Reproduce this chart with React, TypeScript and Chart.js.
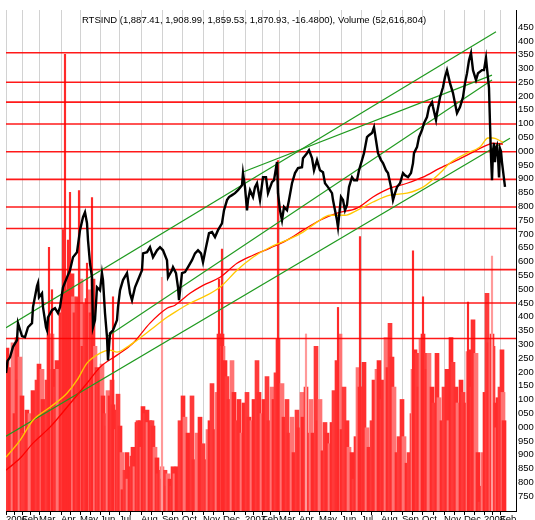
import React, { useEffect, useRef } from 'react';
import { Chart, registerables } from 'chart.js';

Chart.register(...registerables);

const TITLE = 'RTSIND (1,887.41, 1,908.99, 1,859.53, 1,870.93, -16.4800), Volume (52,616,804)';

// x axis: trading-day index from the first session of Jan 2006
const monthTickDays = [0, 16, 33, 55, 74, 94, 113, 135, 156, 176, 197, 217, 239, 256, 273, 293, 313, 335, 355, 375, 396, 416, 438, 458, 478, 494];
const monthTickLabels = ['2006', 'Feb', 'Mar', 'Apr', 'May', 'Jun', 'Jul', 'Aug', 'Sep', 'Oct', 'Nov', 'Dec', '2007', 'Feb', 'Mar', 'Apr', 'May', 'Jun', 'Jul', 'Aug', 'Sep', 'Oct', 'Nov', 'Dec', '2008', 'Feb'];
const minorTickDays = [8, 24, 44, 64, 84, 103, 124, 145, 166, 186, 207, 228, 247, 264, 283, 303, 324, 345, 365, 385, 406, 427, 448, 468, 486];

// price axis ticks
const priceTicks = [750, 800, 850, 900, 950, 1000, 1050, 1100, 1150, 1200, 1250, 1300, 1350, 1400, 1450, 1500, 1550, 1600, 1650, 1700, 1750, 1800, 1850, 1900, 1950, 2000, 2050, 2100, 2150, 2200, 2250, 2300, 2350, 2400, 2450];

// RTS index (sampled path of the daily bars)
const priceDays = [0, 1.5, 4, 7, 11, 12, 16, 19, 22, 26, 27, 31, 32, 33, 36, 37, 40, 41, 42, 46, 49, 52, 54, 57, 61, 64, 67, 71, 74, 77, 79, 81, 82, 84, 86, 87, 89, 91, 94, 96, 97, 99, 101, 102, 104, 107, 111, 112, 114, 117, 121, 124, 126, 129, 132, 136, 137, 141, 144, 147, 151, 154, 157, 161, 162, 166, 167, 170, 172, 173, 176, 179, 182, 186, 189, 192, 195, 197, 200, 203, 206, 209, 212, 216, 218, 221, 223, 226, 229, 232, 236, 237, 239, 241, 242, 244, 247, 249, 251, 254, 257, 260, 262, 266, 268, 271, 272, 274, 276, 278, 281, 283, 286, 289, 292, 296, 297, 301, 303, 306, 308, 311, 314, 317, 319, 322, 326, 327, 329, 331, 332, 335, 337, 339, 341, 343, 346, 348, 351, 353, 356, 358, 361, 363, 366, 368, 370, 372, 375, 377, 380, 382, 385, 387, 389, 391, 394, 397, 399, 402, 405, 407, 408, 411, 413, 416, 418, 421, 423, 426, 427, 430, 431, 434, 437, 439, 441, 444, 447, 449, 451, 454, 457, 459, 461, 463, 465, 467, 470, 472, 476, 478, 480, 481, 483, 484, 485, 486, 487, 488, 489, 490, 491, 492, 493, 494, 495, 496, 497, 498, 499];
const priceVals = [1196, 1240, 1253, 1291, 1315, 1377, 1330, 1326, 1362, 1377, 1435, 1511, 1522, 1471, 1485, 1435, 1362, 1351, 1398, 1424, 1431, 1413, 1435, 1507, 1543, 1569, 1616, 1634, 1714, 1761, 1779, 1739, 1678, 1594, 1543, 1362, 1388, 1507, 1496, 1558, 1533, 1413, 1326, 1242, 1340, 1351, 1388, 1435, 1496, 1533, 1558, 1485, 1460, 1507, 1533, 1569, 1630, 1634, 1652, 1616, 1641, 1652, 1641, 1605, 1543, 1569, 1580, 1558, 1507, 1460, 1558, 1562, 1580, 1605, 1630, 1641, 1630, 1598, 1652, 1703, 1707, 1689, 1714, 1739, 1786, 1823, 1834, 1841, 1848, 1859, 1877, 1921, 1870, 1786, 1823, 1859, 1834, 1870, 1884, 1823, 1906, 1906, 1848, 1888, 1895, 1961, 1848, 1786, 1750, 1798, 1786, 1823, 1884, 1921, 1939, 1942, 1975, 1993, 2004, 1975, 1931, 1968, 1931, 1924, 1884, 1870, 1848, 1823, 1786, 1750, 1725, 1834, 1823, 1786, 1805, 1870, 1906, 1895, 1895, 1931, 1968, 1993, 2051, 2058, 2066, 2087, 2040, 1993, 1968, 1957, 1931, 1921, 1870, 1823, 1848, 1870, 1884, 1921, 1913, 1906, 1921, 1957, 1993, 2015, 2051, 2077, 2102, 2124, 2160, 2178, 2160, 2113, 2138, 2196, 2232, 2269, 2294, 2247, 2211, 2174, 2138, 2160, 2196, 2247, 2283, 2330, 2356, 2294, 2258, 2283, 2294, 2294, 2338, 2300, 2230, 2100, 1980, 1895, 2000, 2030, 1960, 2010, 2020, 1980, 1905, 2010, 2000, 1960, 1930, 1900, 1871];

// moving averages
const slowMaDays = [0, 14, 27, 44, 61, 81, 94, 111, 127, 144, 161, 169, 184, 197, 214, 231, 247, 264, 281, 297, 314, 331, 351, 367, 384, 401, 417, 434, 451, 467, 481, 487, 497];
const slowMaVals = [844, 887, 942, 1000, 1072, 1159, 1217, 1261, 1304, 1377, 1431, 1442, 1485, 1514, 1543, 1594, 1623, 1649, 1678, 1714, 1750, 1776, 1794, 1834, 1866, 1884, 1906, 1939, 1968, 1997, 2022, 2029, 2026];
const fastMaDays = [0, 14, 27, 44, 61, 71, 81, 94, 104, 111, 121, 131, 144, 161, 169, 184, 197, 214, 231, 247, 264, 281, 297, 311, 324, 339, 351, 367, 384, 401, 417, 434, 444, 461, 474, 482, 487, 497];
const fastMaVals = [891, 952, 1025, 1072, 1123, 1170, 1232, 1268, 1279, 1272, 1290, 1315, 1351, 1398, 1417, 1449, 1471, 1507, 1569, 1616, 1652, 1678, 1707, 1743, 1768, 1768, 1786, 1816, 1841, 1848, 1870, 1921, 1957, 1993, 2015, 2048, 2048, 2033];

// horizontal support / resistance levels
const levelPrices = [2357, 2250, 2178, 2099, 1998, 1898, 1798, 1720, 1571, 1450, 1321];

// trend channel lines: [startDay, startPrice, endDay, endPrice]
const trendUpper = [0, 1360, 490, 2433];
const trendMiddle = [102, 1330, 486, 2258];
const trendLower = [0, 967, 504, 2047];
const trendResist = [237, 1925, 486, 2276];

// volume (millions of shares)
const volDays = [1, 2, 4, 7, 9, 11, 12, 14, 16, 17, 21, 24, 27, 31, 33, 36, 37, 41, 43, 46, 47, 49, 51, 52, 55, 57, 59, 61, 62, 64, 66, 67, 69, 71, 73, 75, 77, 79, 81, 83, 85, 86, 87, 89, 91, 92, 94, 96, 97, 99, 101, 102, 104, 106, 107, 109, 111, 112, 114, 116, 117, 119, 121, 122, 124, 126, 127, 129, 131, 132, 134, 136, 137, 139, 141, 142, 144, 146, 147, 149, 151, 152, 154, 156, 157, 159, 161, 162, 164, 166, 167, 169, 171, 174, 177, 179, 182, 186, 188, 191, 194, 197, 201, 202, 204, 206, 209, 211, 213, 215, 216, 217, 219, 221, 223, 226, 228, 231, 233, 236, 238, 241, 243, 246, 248, 251, 253, 256, 258, 261, 263, 266, 268, 270, 272, 276, 278, 281, 283, 286, 288, 291, 293, 296, 297, 300, 302, 305, 307, 310, 312, 314, 317, 319, 321, 324, 326, 328, 331, 334, 336, 338, 341, 343, 346, 348, 350, 352, 354, 356, 358, 361, 363, 366, 368, 371, 373, 376, 377, 380, 382, 384, 386, 388, 391, 393, 396, 398, 401, 403, 406, 407, 409, 411, 413, 415, 417, 419, 421, 423, 426, 428, 431, 433, 436, 438, 441, 443, 445, 447, 450, 452, 455, 457, 460, 462, 464, 466, 467, 470, 472, 474, 476, 477, 479, 481, 483, 485, 486, 487, 489, 491, 492, 494, 496, 497, 498];
const volVals = [92, 78, 81, 95, 55, 98, 74, 87, 65, 44, 57, 55, 68, 74, 83, 80, 63, 74, 100, 100, 80, 70, 85, 80, 112, 120, 130, 131, 125, 120, 134, 121, 112, 121, 120, 131, 93, 117, 120, 125, 112, 110, 131, 93, 81, 80, 74, 83, 65, 55, 48, 68, 65, 74, 60, 46, 57, 66, 48, 33, 12, 23, 33, 18, 25, 31, 36, 25, 50, 51, 51, 36, 59, 55, 57, 50, 51, 51, 48, 36, 30, 21, 23, 25, 18, 23, 14, 21, 18, 14, 25, 21, 25, 51, 65, 53, 44, 65, 29, 44, 53, 38, 29, 46, 51, 72, 46, 67, 100, 97, 100, 93, 85, 76, 63, 85, 67, 51, 63, 44, 61, 67, 53, 51, 63, 85, 67, 55, 63, 76, 51, 70, 63, 78, 97, 72, 53, 63, 44, 53, 33, 57, 47, 67, 53, 70, 44, 63, 44, 93, 51, 63, 34, 50, 44, 38, 50, 68, 85, 100, 46, 70, 51, 36, 33, 18, 42, 81, 70, 70, 84, 47, 36, 51, 74, 80, 85, 63, 74, 98, 81, 106, 87, 70, 33, 42, 63, 42, 27, 33, 55, 80, 91, 89, 70, 97, 100, 89, 80, 89, 70, 61, 89, 64, 51, 70, 80, 51, 98, 84, 70, 61, 74, 67, 61, 90, 91, 70, 108, 89, 33, 5, 14, 33, 67, 123, 95, 97, 100, 93, 61, 47, 64, 70, 91, 67, 51];

// single-session volume spikes
const spikeDays = [43, 46, 57, 59, 62, 64, 73, 81, 86, 107, 156, 213, 216, 272, 300, 332, 354, 407, 417, 462, 486];
const spikeVals = [149, 125, 159, 258, 153, 180, 181, 140, 177, 121, 132, 131, 148, 198, 100, 115, 155, 147, 121, 118, 144];
const spikeLight = [156, 300, 486];

const FONT = '"Liberation Sans", Arial, Helvetica, sans-serif';

const pts = (xs: number[], ys: number[]) => xs.map((x, i) => ({ x, y: ys[i] }));
const seg = (s: number[]) => [{ x: s[0], y: s[1] }, { x: s[2], y: s[3] }];

const titlePlugin = {
  id: 'rtsTitle',
  afterDraw(chart: any) {
    const ctx = chart.ctx;
    ctx.save();
    ctx.font = `9.5px ${FONT}`;
    ctx.fillStyle = '#000';
    ctx.textAlign = 'center';
    ctx.textBaseline = 'alphabetic';
    ctx.fillText(TITLE, 254, 22.5);
    ctx.restore();
  },
};

export default function App() {
  const ref = useRef<HTMLCanvasElement>(null);

  useEffect(() => {
    document.body.style.margin = '0';
    const canvas = ref.current;
    if (!canvas) return;

    const allTicks = [...monthTickDays, ...minorTickDays].sort((a, b) => a - b);
    const labelFor = (v: number) => {
      const i = monthTickDays.indexOf(v);
      return i >= 0 ? monthTickLabels[i] : '';
    };

    const volColors = ['#ff2b2b', '#ff3a3a', '#ff2f2f', '#ff7474'];

    const datasets: any[] = [
      {
        type: 'line', label: 'RTSIND', data: pts(priceDays, priceVals),
        borderColor: '#000', borderWidth: 2.4, pointRadius: 0, order: 0, yAxisID: 'y',
      },
      {
        type: 'line', label: 'MA fast', data: pts(fastMaDays, fastMaVals),
        borderColor: '#ffc800', borderWidth: 1.3, pointRadius: 0, order: 1, yAxisID: 'y', cubicInterpolationMode: 'monotone',
      },
      {
        type: 'line', label: 'MA slow', data: pts(slowMaDays, slowMaVals),
        borderColor: '#ff0000', borderWidth: 1.3, pointRadius: 0, order: 1, yAxisID: 'y', cubicInterpolationMode: 'monotone',
      },
      ...[trendUpper, trendMiddle, trendLower, trendResist].map((s) => ({
        type: 'line', label: 'trend', data: seg(s),
        borderColor: '#1f9a1f', borderWidth: 1.2, pointRadius: 0, order: 2, yAxisID: 'y',
      })),
      ...levelPrices.map((p) => ({
        type: 'line', label: 'level', data: [{ x: 0, y: p }, { x: 510, y: p }],
        borderColor: 'rgba(255,0,0,0.9)', borderWidth: 1.6, pointRadius: 0, order: 3, yAxisID: 'y',
      })),
      {
        type: 'bar', label: 'spikes', data: pts(spikeDays, spikeVals),
        backgroundColor: spikeDays.map((d) => (spikeLight.includes(d) ? '#ff9a9a' : '#ff2a2a')),
        barThickness: 1.5, grouped: false, order: 4, yAxisID: 'yv', borderWidth: 0,
      },
      {
        type: 'bar', label: 'Volume', data: pts(volDays, volVals),
        backgroundColor: volDays.map((_, i) => volColors[i % 4]),
        barThickness: 4, grouped: false, order: 5, yAxisID: 'yv', borderWidth: 0,
      },
    ];

    const chart = new Chart(canvas, {
      type: 'line',
      data: { datasets },
      plugins: [titlePlugin],
      options: {
        responsive: false,
        animation: false,
        devicePixelRatio: 1,
        layout: { padding: { top: 10, left: 6, right: 0, bottom: 0 } },
        plugins: { legend: { display: false }, tooltip: { enabled: false }, title: { display: false } },
        elements: { point: { radius: 0 }, line: { tension: 0 } },
        scales: {
          x: {
            type: 'linear', min: 0, max: 510, offset: false,
            afterBuildTicks: (s: any) => { s.ticks = allTicks.map((v) => ({ value: v })); },
            afterFit: (s: any) => { s.height = 9; },
            grid: {
              offset: false,
              color: (c: any) => (c.tick && monthTickDays.includes(c.tick.value) ? '#d2d2d2' : 'rgba(0,0,0,0)'),
              lineWidth: 1, drawTicks: true, tickLength: 4, tickColor: '#000',
            },
            border: { display: true, color: '#000', width: 1 },
            ticks: {
              autoSkip: false, maxRotation: 0, minRotation: 0, align: 'start', padding: -1,
              color: '#000', font: { family: FONT, size: 9.5 },
              callback: (v: any) => labelFor(Number(v)),
            },
          },
          y: {
            type: 'linear', position: 'right', min: 696, max: 2512,
            afterBuildTicks: (s: any) => { s.ticks = priceTicks.map((v) => ({ value: v })); },
            afterFit: (s: any) => { s.width = 19; },
            grid: { display: false, drawTicks: false },
            border: { display: true, color: '#000', width: 1, dash: [1, 1] },
            ticks: {
              padding: 2, color: '#000', font: { family: FONT, size: 9.5 },
              callback: (v: any) => String(Number(v) % 1000).padStart(3, '0'),
            },
          },
          yv: { type: 'linear', display: false, min: 0, max: 283 },
        },
      } as any,
    });

    return () => chart.destroy();
  }, []);

  return (
    <div style={{ width: 535, height: 520 }}>
      <canvas ref={ref} width={535} height={520} style={{ display: 'block', width: '535px', height: '520px' }} />
    </div>
  );
}
